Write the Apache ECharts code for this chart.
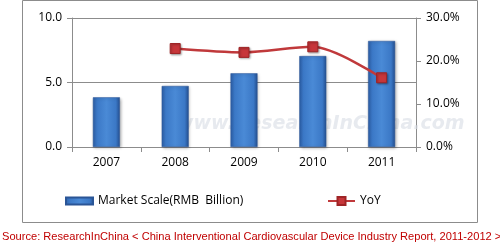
<!DOCTYPE html>
<html><head><meta charset="utf-8">
<script src="https://cdn.jsdelivr.net/npm/echarts@6/dist/echarts.min.js"></script>
<style>html,body{margin:0;padding:0;background:#fff}#c{width:500px;height:244px}</style>
</head><body><div id="c"></div>
<script>
const categories = ['2007','2008','2009','2010','2011'];
const marketScale = [3.85, 4.73, 5.71, 7.05, 8.22];
const yoy = [null, 22.9, 22.0, 23.3, 16.1];
const leftTicks = [0, 5, 10];
const rightTicks = [0, 10, 20, 30];
const barName = 'Market Scale(RMB  Billion)';
const lineName = 'YoY';
const sourceText = 'Source: ResearchInChina < China Interventional Cardiovascular Device Industry Report, 2011-2012 >';

const FONT = 'Open Sans';
const chart = echarts.init(document.getElementById('c'), null, {renderer:'canvas'});
chart.setOption({
  animation:false,
  textStyle:{fontFamily:FONT},
  grid:{left:72, right:84, top:18, bottom:97},
  graphic:[
    {type:'rect', shape:{x:22.5, y:0.5, width:455, height:222}, style:{fill:'none', stroke:'#8c8c8c', lineWidth:1}, z:-1},
    {type:'text', left:176, top:115, style:{text:'www.ResearchInChina.com', fill:'rgba(215,220,228,0.6)', font:'italic bold 19px "DejaVu Sans"'}, z:1},
    {type:'text', left:2, top:231, style:{text:sourceText, fill:'#c00000', font:'11.1px "Liberation Sans"'}}
  ],
  legend:[
    {left:65, top:195, padding:0, itemWidth:27, itemHeight:7, itemGap:0, textStyle:{fontSize:12, color:'#000', fontFamily:FONT}, data:[{name:barName, icon:'rect'}]},
    {left:327, top:195, padding:0, itemWidth:27, itemHeight:10, textStyle:{fontSize:12, color:'#000', fontFamily:FONT}, data:[lineName]}
  ],
  xAxis:{type:'category', data:categories, axisLine:{lineStyle:{color:'#8c8c8c'}}, axisTick:{show:true, length:5, lineStyle:{color:'#8c8c8c'}},
    axisLabel:{color:'#000', fontSize:12, margin:10}},
  yAxis:[
    {type:'value', min:0, max:10, interval:5, position:'left',
      axisLine:{show:true, lineStyle:{color:'#8c8c8c'}}, axisTick:{show:true, length:5, lineStyle:{color:'#8c8c8c'}},
      splitLine:{lineStyle:{color:'#8c8c8c'}},
      axisLabel:{color:'#000', fontSize:12, margin:10, formatter:v=>v.toFixed(1)}},
    {type:'value', min:0, max:30, interval:10, position:'right',
      axisLine:{show:true, lineStyle:{color:'#8c8c8c'}}, axisTick:{show:true, length:5, inside:false, lineStyle:{color:'#8c8c8c'}},
      splitLine:{show:false},
      axisLabel:{color:'#000', fontSize:12, margin:10, formatter:v=>v.toFixed(1)+'%'}}
  ],
  series:[
    {name:barName, type:'bar', data:marketScale, barWidth:27, yAxisIndex:0,
      itemStyle:{color:new echarts.graphic.LinearGradient(0,0,1,0,[
        {offset:0,color:'#2c5fa8'},{offset:0.15,color:'#3b78c6'},{offset:0.5,color:'#4a8ad6'},{offset:0.85,color:'#3b78c6'},{offset:1,color:'#244f90'}]),
        borderColor:'#2a5596', borderWidth:0.5, shadowColor:'rgba(0,0,0,0.3)', shadowBlur:3, shadowOffsetX:1, shadowOffsetY:1}},
    {name:lineName, type:'line', data:yoy, yAxisIndex:1, smooth:0.3, smoothMonotone:'x', symbol:'rect', symbolSize:10,
      lineStyle:{color:'#c0393b', width:2.5},
      itemStyle:{color:'#c7363a', borderColor:'#9e2426', borderWidth:1, shadowColor:'rgba(0,0,0,0.3)', shadowBlur:2, shadowOffsetX:1, shadowOffsetY:1}}
  ]
});
</script></body></html>
